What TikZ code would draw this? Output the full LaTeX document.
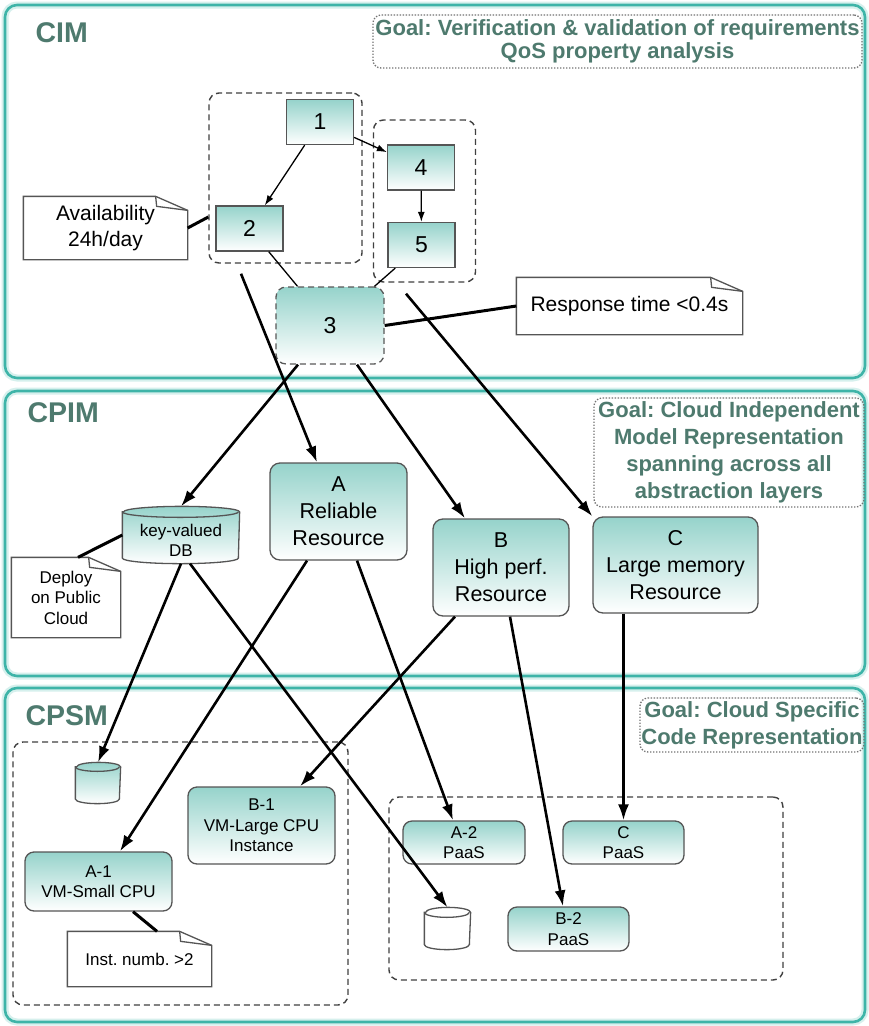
\documentclass[tikz,border=0pt]{standalone}
\usepackage{fontspec}
\setmainfont{Liberation Sans}
\usetikzlibrary{arrows.meta}
\tikzset{
every picture/.style={
line width=1.3pt
}}
\frenchspacing

\definecolor{layerline}{RGB}{62,180,168}
\definecolor{layerglow}{RGB}{214,240,237}
\definecolor{titlegreen}{RGB}{78,122,110}
\definecolor{celltop}{RGB}{150,211,203}
\definecolor{cellline}{RGB}{85,85,85}

% note with a folded corner, drawn round a named node
\newcommand\notefold[1]{
\draw [cellline] (#1.south west) -- (#1.north west)
-- ([xshift=-32pt]#1.north east) -- ([yshift=-14pt]#1.north east)
-- (#1.south east) -- cycle;
\draw [cellline] ([xshift=-32pt]#1.north east)
-- ([xshift=-31pt,yshift=-10pt]#1.north east) -- ([yshift=-14pt]#1.north east);
}

% cylinder drawn round a named node: name, x radius, y radius, fill
\newcommand\dbshape[4]{
\path [#4, draw=cellline] ([yshift=-#3pt]#1.north west) -- ([yshift=#3pt]#1.south west)
arc [start angle=180, end angle=360, x radius=#2pt, y radius=#3pt]
-- ([yshift=-#3pt]#1.north east)
arc [start angle=0, end angle=180, x radius=#2pt, y radius=#3pt] -- cycle;
\draw [cellline] ([yshift=-#3pt]#1.north west)
arc [start angle=180, end angle=360, x radius=#2pt, y radius=#3pt];
}

\begin{document}
\begin{tikzpicture}[x=1pt, y=-1pt,
layer/.style = {layerline, line width=2.6pt, rounded corners=12pt},
title/.style = {anchor=west, inner sep=0pt, text=titlegreen, font=\fontsize{28.5}{30}\selectfont\bfseries},
goal/.style = {draw=black!55, dash pattern=on 1.4pt off 1.6pt, rounded corners=8pt, text=titlegreen, align=center, inner sep=1pt},
grp/.style = {draw=black!75, dash pattern=on 6pt off 4pt, line width=1.4pt, rounded corners=10pt},
task/.style = {rectangle, draw=cellline, top color=celltop, bottom color=white, font=\fontsize{23}{27}\selectfont, minimum width=67pt, minimum height=45pt, inner sep=0pt},
res/.style = {rectangle, draw=cellline, rounded corners=10pt, top color=celltop, bottom color=white, align=center, font=\fontsize{21.5}{27}\selectfont, inner sep=0pt},
svc/.style = {res, rounded corners=9pt, font=\fontsize{17}{20.5}\selectfont},
note/.style = {fill=white, align=center, inner sep=0pt, font=\fontsize{21}{26}\selectfont},
db/.style = {align=center, inner sep=0pt, font=\fontsize{17}{20}\selectfont},
flow/.style = {-{Latex[length=10pt,width=7pt]}},
map/.style = {-{Latex[length=16pt,width=11pt]}, line width=2.6pt},
tie/.style = {line width=3pt}]

\useasboundingbox [fill=white] (0,0) rectangle (868,1026);

% layers: CIM, CPIM, CPSM
\foreach \ytop/\ybot in {5/378, 391/676, 688/1022} {
\draw [layerglow, line width=7pt, rounded corners=12pt] (5,\ytop) rectangle (865,\ybot);
\draw [layer] (5,\ytop) rectangle (865,\ybot);
}

\node [title] (cimt) at (35,33) {CIM};
\node [title] (cpimt) at (27,413) {CPIM};
\node [title] (cpsmt) at (25,716) {CPSM};

\node [goal, minimum width=489pt, minimum height=53pt, font=\fontsize{22}{23}\selectfont\bfseries] (cimgoal) at (617.5,41.5)
{Goal: Verification \& validation of requirements\\QoS property analysis};
\node [goal, minimum width=270pt, minimum height=109pt, font=\fontsize{22}{27}\selectfont\bfseries] (cpimgoal) at (729,452.5)
{Goal: Cloud Independent\\Model Representation\\spanning across all\\abstraction layers};
\node [goal, minimum width=224pt, minimum height=54pt, font=\fontsize{22}{27}\selectfont\bfseries] (cpsmgoal) at (752,725)
{Goal: Cloud Specific\\Code Representation};

% CIM
\node [grp, minimum width=153pt, minimum height=170pt] (grp1) at (285.5,178) {};
\node [grp, minimum width=102pt, minimum height=162pt] (grp2) at (424.5,201) {};

\node [task] (n1) at (320,122) {1};
\node [task] (n4) at (421,167.5) {4};
\node [task] (n2) at (249.5,228.5) {2};
\node [task] (n5) at (421.5,245) {5};
\node [res, draw=black!65, dash pattern=on 6pt off 4pt, minimum width=108pt, minimum height=77pt, font=\fontsize{23}{27}\selectfont] (n3) at (330,325.5) {3};

\node [note, minimum width=163pt, minimum height=62pt] (avail) at (105.5,228) {Availability\\24h/day};
\notefold{avail}
\node [note, minimum width=225pt, minimum height=56pt] (resp) at (629.5,306) {Response time <0.4s};
\notefold{resp}

% CPIM
\node [db, minimum width=116pt, minimum height=56pt] (db) at (181,535) {};
\dbshape{db}{58}{5.5}{top color=celltop, bottom color=white}
\node [db] (dbtext) at (181,540) {key-valued\\DB};
\node [res, minimum width=137pt, minimum height=97pt] (ar) at (338.5,511.5) {A\\Reliable\\Resource};
\node [res, minimum width=136pt, minimum height=97pt] (br) at (501,567.5) {B\\High perf.\\Resource};
\node [res, minimum width=165pt, minimum height=96pt] (cr) at (675.5,565) {C\\Large memory\\Resource};
\node [note, minimum width=108pt, minimum height=79pt, font=\fontsize{17}{20.5}\selectfont] (deploy) at (66,597.5) {Deploy\\on Public\\Cloud};
\notefold{deploy}

% CPSM
\node [grp, minimum width=335pt, minimum height=263pt] (grpl) at (180.5,873.5) {};
\node [grp, minimum width=394pt, minimum height=183pt] (grpr) at (586,888.5) {};

\node [db, minimum width=44pt, minimum height=40pt] (cylL) at (98,783) {};
\dbshape{cylL}{22}{4.5}{top color=celltop, bottom color=white}
\node [db, minimum width=45pt, minimum height=41pt] (cylR) at (447.5,928.5) {};
\dbshape{cylR}{22.5}{5}{fill=white}

\node [svc, minimum width=147pt, minimum height=77pt] (b1) at (261.5,825.5) {B-1\\VM-Large CPU\\Instance};
\node [svc, minimum width=147pt, minimum height=59pt] (a1) at (98.5,881.5) {A-1\\VM-Small CPU};
\node [svc, minimum width=122pt, minimum height=43pt] (a2) at (464,842.5) {A-2\\PaaS};
\node [svc, minimum width=121pt, minimum height=43pt] (cp) at (623.5,842.5) {C\\PaaS};
\node [svc, minimum width=121pt, minimum height=44pt] (b2) at (568.5,929) {B-2\\PaaS};
\node [note, minimum width=143pt, minimum height=54pt, font=\fontsize{17}{20.5}\selectfont] (inst) at (139.5,959) {Inst. numb. >2};
\notefold{inst}

% links inside CIM
\draw [flow] (n1) -- (n2);
\draw [flow] (n1) -- (n4);
\draw [flow] (n4) -- (n5);
\draw (n2) -- (n3);
\draw (n5) -- (n3);
\draw [tie] (avail.east) -- ([yshift=-39pt]grp1.west);
\draw [tie] (n3.east) -- (resp.west);

% CIM -> CPIM
\draw [map] ([xshift=-44.5pt, yshift=-10pt]grp1.south) -- ([xshift=-21.5pt]ar.north);
\draw [map] ([xshift=-32pt]n3.south) -- (db.north);
\draw [map] ([xshift=27pt]n3.south) -- ([xshift=-36pt]br.north);
\draw [map] ([xshift=-18.5pt, yshift=-11pt]grp2.south) -- (cr.north west);

% CPIM -> CPSM
\draw [tie] (db.west) -- ([xshift=12pt]deploy.north);
\draw [map] (db.south) -- (cylL.north);
\draw [map] ([xshift=9pt]db.south) -- (cylR.north);
\draw [map] ([xshift=-31.5pt]ar.south) -- ([xshift=21.5pt]a1.north);
\draw [map] ([xshift=18.5pt]ar.south) -- ([xshift=-11pt]a2.north);
\draw [map] ([xshift=-46pt]br.south) -- ([xshift=38.5pt]b1.north);
\draw [map] ([xshift=9pt]br.south) -- ([xshift=-5.5pt]b2.north);
\draw [map] (cp.north |- cr.south) -- (cp.north);
\draw [tie] ([xshift=34.5pt]a1.south) -- ([xshift=17.5pt]inst.north);

\end{tikzpicture}
\end{document}
